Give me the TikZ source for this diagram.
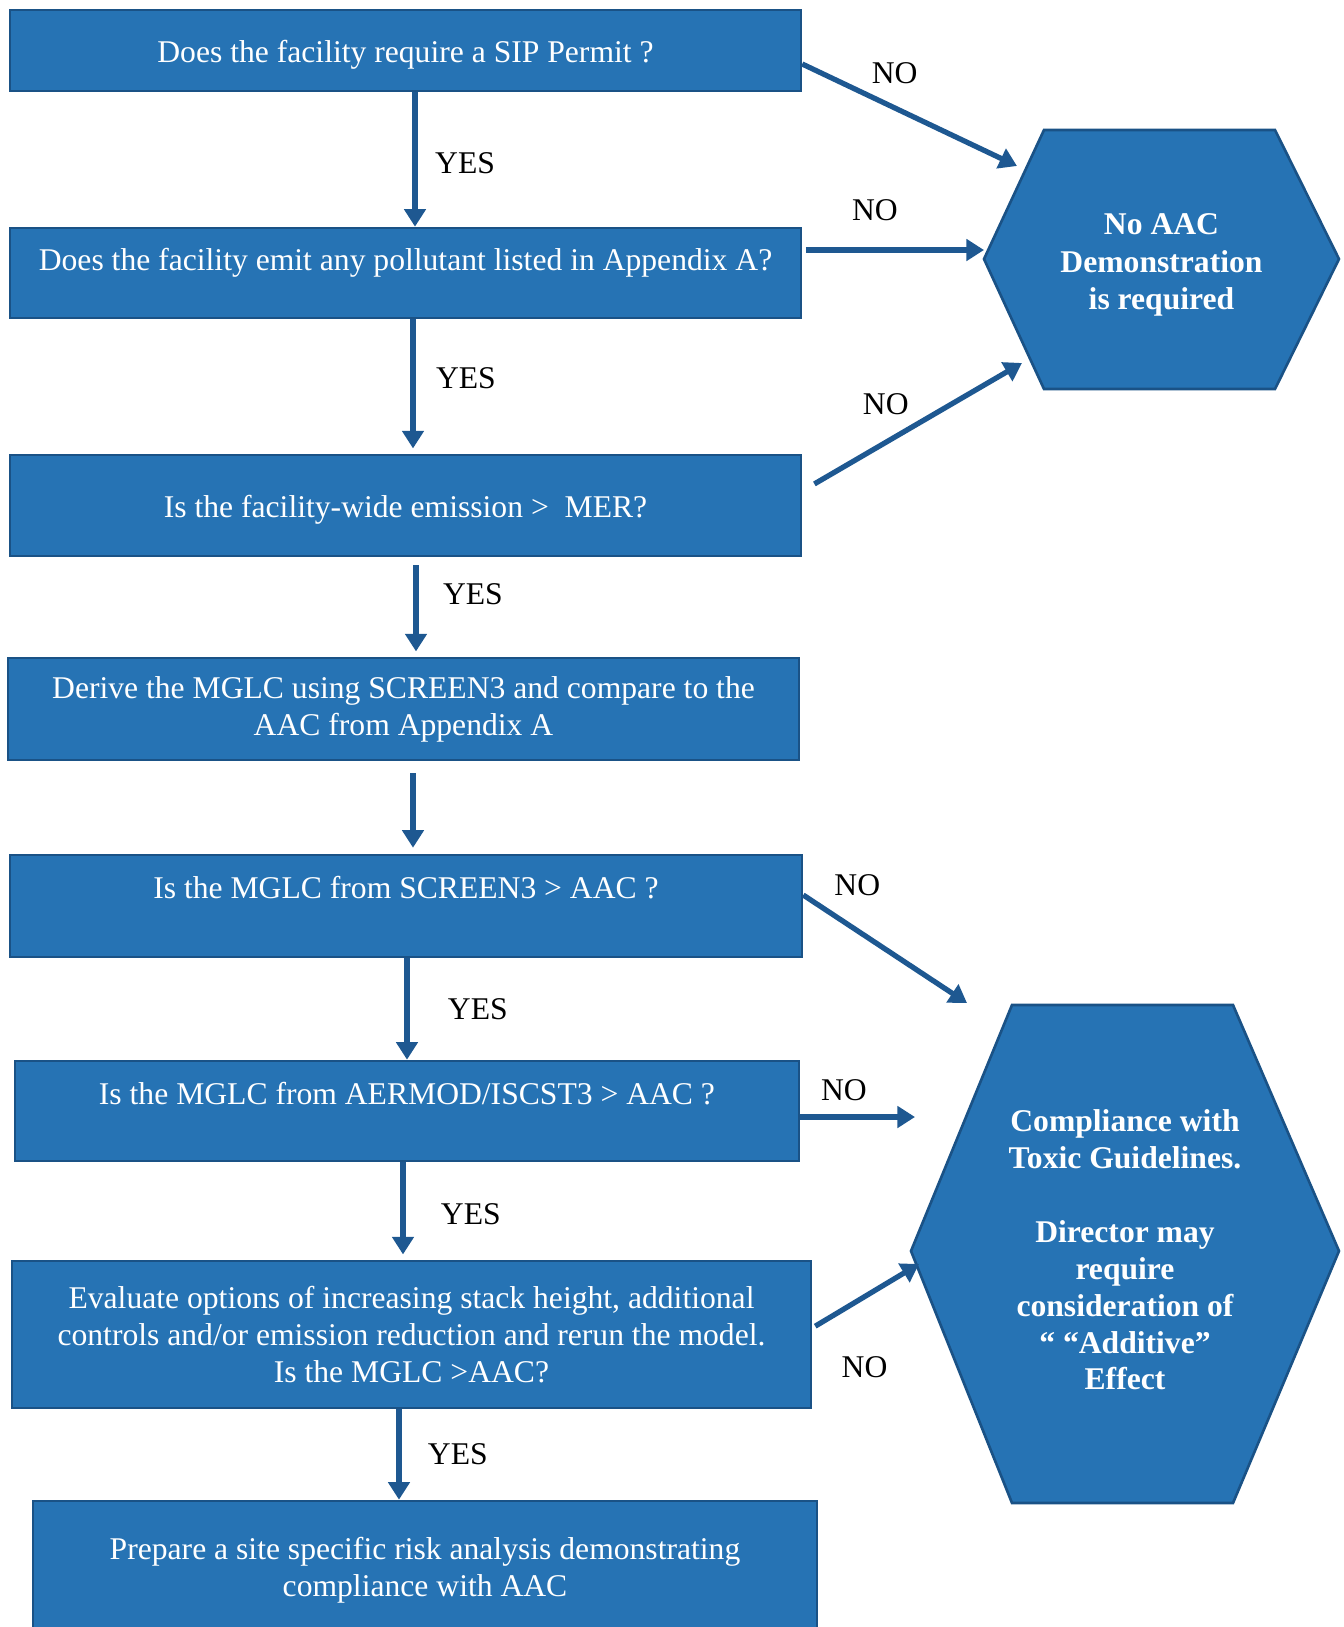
\documentclass[tikz,border=0pt]{standalone}
\usepackage{fontspec}
\setmainfont{Liberation Serif}
\usetikzlibrary{arrows.meta}
\definecolor{boxfill}{RGB}{38,115,180}
\definecolor{boxline}{RGB}{26,82,134}
\definecolor{flowline}{RGB}{30,88,145}
\tikzset{
    qbox/.style={draw=boxline, line width=1.5pt, fill=boxfill, text=white,
        inner sep=0pt, align=center, font=\fontsize{18}{21}\selectfont},
    hexagon/.style={draw=boxline, line width=1.5pt, fill=boxfill},
    hextext/.style={text=white, align=center, inner sep=0pt,
        font=\fontsize{18}{21}\bfseries},
    flow/.style={draw=flowline, line width=3pt,
        -{Triangle[length=10pt, width=12pt]}},
    lbl/.style={text=black, inner sep=0pt, font=\fontsize{18}{21}\selectfont},
    lifted/.style={text depth=#1},
    sunk/.style={text height=#1},
}
\begin{document}
\begin{tikzpicture}[x=0.02cm, y=-0.02cm]
    \useasboundingbox (0,0) rectangle (1343,1627);
    \clip (0,0) rectangle (1343,1627);

    % question boxes
    \node[qbox, sunk=17pt, minimum width=15.82cm, minimum height=1.62cm] (q1) at (405.5,50.5)
        {Does the facility require a SIP Permit ?};
    \node[qbox, lifted=15pt, minimum width=15.82cm, minimum height=1.80cm] (q2) at (405.5,273)
        {Does the facility emit any pollutant listed in Appendix A?};
    \node[qbox, sunk=18pt, minimum width=15.82cm, minimum height=2.02cm] (q3) at (405.5,505.5)
        {Is the facility-wide emission >\enspace MER?};
    \node[qbox, minimum width=15.82cm, minimum height=2.04cm] (d4) at (403.5,709)
        {Derive the MGLC using SCREEN3 and compare to the\\AAC from Appendix A};
    \node[qbox, lifted=21pt, minimum width=15.84cm, minimum height=2.04cm] (q5) at (406,906)
        {Is the MGLC from SCREEN3 > AAC ?};
    \node[qbox, lifted=20pt, minimum width=15.68cm, minimum height=2.00cm] (q6) at (407,1111)
        {Is the MGLC from AERMOD/ISCST3 > AAC ?};
    \node[qbox, minimum width=15.98cm, minimum height=2.94cm] (q7) at (411.5,1334.5)
        {Evaluate options of increasing stack height, additional\\controls and/or emission reduction and rerun the model.\\Is the MGLC >AAC?};
    \node[qbox, minimum width=15.68cm, minimum height=2.78cm] (p8) at (425,1570.5)
        {Prepare a site specific risk analysis demonstrating\\compliance with AAC};

    % end hexagons
    \draw[hexagon] (984,259) -- (1044,130) -- (1275,130) -- (1339,259)
        -- (1275,389) -- (1044,389) -- cycle;
    \node[hextext, font=\fontsize{18}{21.3}\bfseries] (noaac) at (1161.5,265)
        {No AAC\\Demonstration\\is required};
    \draw[hexagon] (911,1251) -- (1012,1005) -- (1233,1005) -- (1339,1251)
        -- (1233,1503) -- (1012,1503) -- cycle;
    \node[hextext] (comply) at (1125,1250)
        {Compliance with\\Toxic Guidelines.\\[21pt]Director may\\require\\consideration of\\“ “Additive”\\Effect};

    \coordinate (in1) at (1017,166);
    \coordinate (in2) at (984,250);
    \coordinate (in3) at (1022,363);
    \coordinate (in5) at (967,1003);
    \coordinate (in6) at (915,1117);
    \coordinate (in7) at (919,1264);

    % yes branch
    \draw[flow] (q1.south -| 415,0) -- (q2.north -| 415,0)
        node[lbl, pos=0.5, anchor=west, xshift=10pt, yshift=-2pt] {YES};
    \draw[flow, shorten >=3pt] (q2.south -| 413,0) -- (q3.north -| 413,0)
        node[lbl, pos=0.5, anchor=west, xshift=11.6pt, yshift=4.8pt] {YES};
    \draw[flow, shorten <=4.5pt, shorten >=3pt] (q3.south -| 416,0) -- (d4.north -| 416,0)
        node[lbl, pos=0.5, anchor=west, xshift=13.9pt, yshift=7.4pt] {YES};
    \draw[flow, shorten <=6.8pt, shorten >=3.4pt] (d4.south -| 413,0) -- (q5.north -| 413,0);
    \draw[flow] (q5.south -| 407,0) -- (q6.north -| 407,0)
        node[lbl, pos=0.5, anchor=west, xshift=21.8pt] {YES};
    \draw[flow, shorten >=3pt] (q6.south -| 403,0) -- (q7.north -| 403,0)
        node[lbl, pos=0.5, anchor=west, xshift=20.1pt, yshift=-1.7pt] {YES};
    \draw[flow] (q7.south -| 399,0) -- (p8.north -| 399,0)
        node[lbl, pos=0.5, anchor=west, xshift=15pt] {YES};

    % no branch
    \draw[flow] (q1.east |- 0,64) -- (in1)
        node[lbl, pos=0.43, yshift=20pt] {NO};
    \draw[flow, shorten <=2pt] (q2.east |- 0,250) -- (in2)
        node[lbl, pos=0.40, yshift=22.7pt] {NO};
    \draw[flow, shorten <=8pt] (q3.east |- 0,491) -- (in3)
        node[lbl, pos=0.38, yshift=22pt] {NO};
    \draw[flow] (q5.east |- 0,895) -- (in5)
        node[lbl, pos=0.33, yshift=26pt] {NO};
    \draw[flow] (q6.east |- 0,1117) -- (in6)
        node[lbl, pos=0.38, yshift=15.3pt] {NO};
    \draw[flow, shorten <=2pt] (q7.east |- 0,1328) -- (in7)
        node[lbl, pos=0.49, yshift=-40pt] {NO};
\end{tikzpicture}
\end{document}
